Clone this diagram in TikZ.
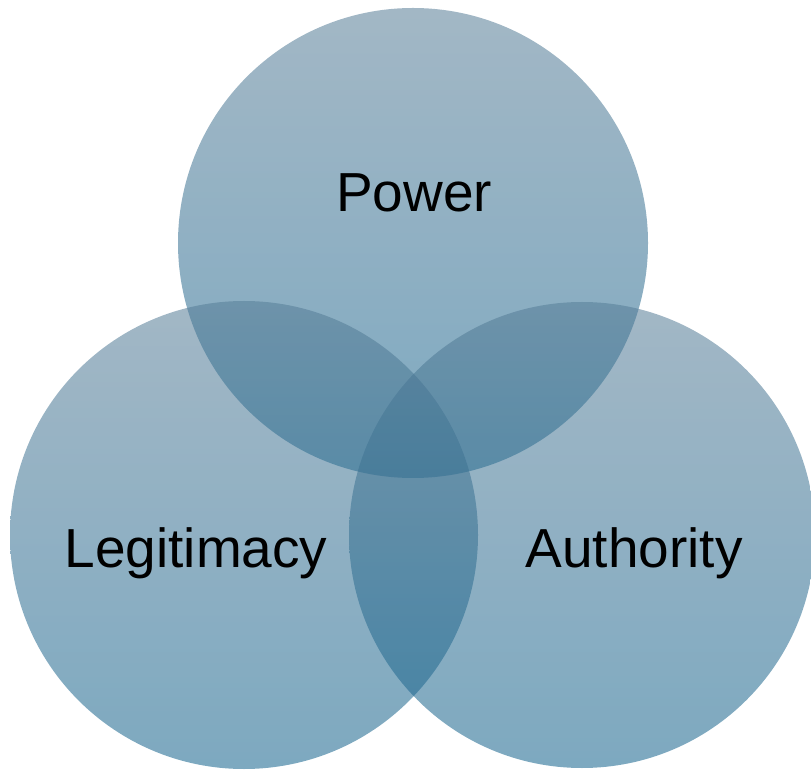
\documentclass[tikz,border=0pt]{standalone}
\usepackage{fontspec}
\setmainfont{Liberation Sans}
\definecolor{venntop}{RGB}{86,124,150}
\definecolor{vennbot}{RGB}{18,98,140}
\tikzset{
  vennset/.style={top color=venntop, bottom color=vennbot, fill opacity=0.55},
  vennlabel/.style={anchor=base, inner sep=0pt, font=\fontsize{55}{55}\selectfont}
}
\begin{document}
\begin{tikzpicture}[x=1pt,y=1pt]
	\useasboundingbox (0,0) rectangle (811,769);
	\shade[vennset] (413,526) circle[radius=235pt];
	\shade[vennset] (244,234) circle[radius=234pt];
	\shade[vennset] (582,234) circle[radius=233pt];
	\node[vennlabel] (power) at (414,557) {Power};
	\node[vennlabel] (legit) at (196,202) {Legitimacy};
	\node[vennlabel] (auth) at (634,202) {Authority};
\end{tikzpicture}
\end{document}
